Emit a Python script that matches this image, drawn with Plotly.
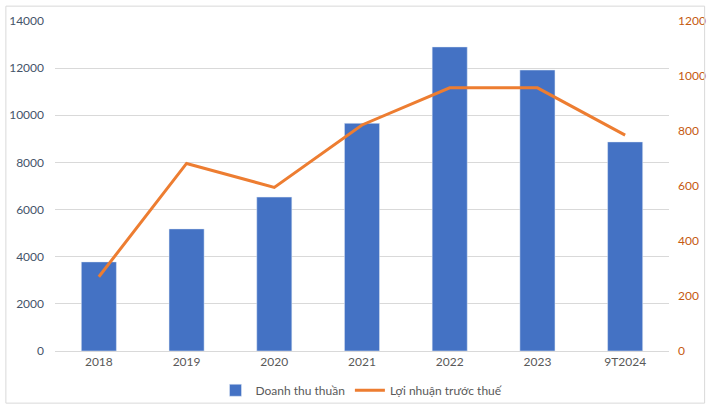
import plotly.graph_objects as go

years = ['2018', '2019', '2020', '2021', '2022', '2023', '9T2024']
revenue = [3780, 5180, 6530, 9660, 12900, 11920, 8870]
profit = [270, 682, 595, 822, 957, 957, 785]

fig = go.Figure()

fig.add_trace(go.Bar(
    x=years, y=revenue, name='Doanh thu thuần',
    marker=dict(color='#4472C4'), width=0.4
))
fig.add_trace(go.Scatter(
    x=years, y=profit, name='Lợi nhuận trước thuế', yaxis='y2',
    mode='lines', line=dict(color='#ED7D31', width=3)
))

fig.update_layout(
    width=719, height=418,
    margin=dict(l=55, r=50, t=21, b=67),
    paper_bgcolor='white', plot_bgcolor='white',
    font=dict(family='Lato', size=12, color='#595959'),
    showlegend=True,
    legend=dict(orientation='h', x=0.5, xanchor='center', y=-0.075, yanchor='top',
                bgcolor='rgba(0,0,0,0)', font=dict(size=12, color='#595959')),
    xaxis=dict(showgrid=False, showline=True, linecolor='#D9D9D9', ticks='',
               automargin=False, tickfont=dict(color='#595959')),
    yaxis=dict(range=[0, 14000], dtick=2000, tickformat='d', gridcolor='#D9D9D9',
               zeroline=False, ticks='', ticklabelstandoff=10, automargin=False,
               tickfont=dict(color='#44546A')),
    yaxis2=dict(range=[0, 1200], dtick=200, tickformat='d', overlaying='y', side='right',
                showgrid=False, zeroline=False, ticks='', ticklabelstandoff=8,
                automargin=False, tickfont=dict(color='#C55A11')),
    shapes=[dict(type='rect', xref='paper', yref='paper',
                 x0=-0.08, x1=1.058, y0=-0.158, y1=1.045,
                 line=dict(color='#D9D9D9', width=1))],
)

# the page body has a default 8px margin, drop it so the chart sits at 0,0
fig.write_html("out.html", config={'displayModeBar': False},
               post_script="document.body.style.margin='0';")
